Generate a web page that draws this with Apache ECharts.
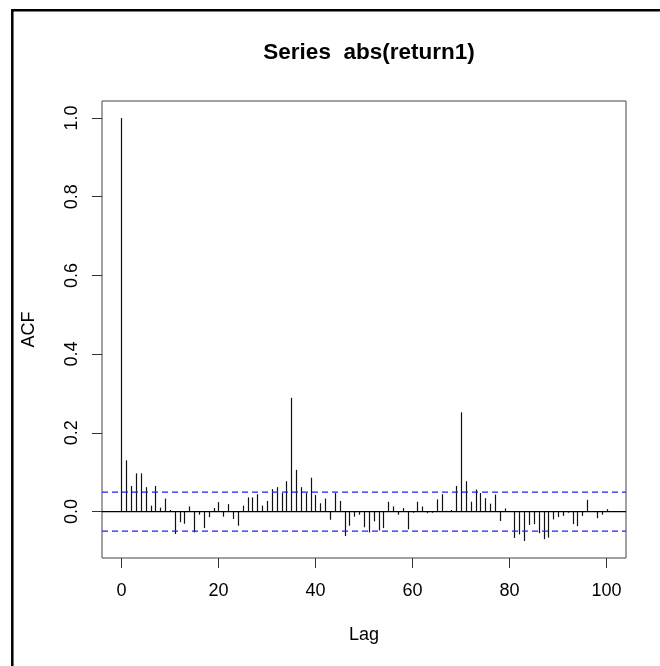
<!DOCTYPE html>
<html>
<head>
<meta charset="utf-8">
<title>Series abs(return1)</title>
<script src="https://cdn.jsdelivr.net/npm/echarts@6/dist/echarts.min.js"></script>
<style>
  html, body { margin: 0; padding: 0; background: #fff; }
  #chart { width: 660px; height: 666px; }
</style>
</head>
<body>
<div id="chart"></div>
<script>
// Autocorrelation of abs(return1), lags 0..100
const acfValues = [
  1.000, 0.130, 0.065, 0.097, 0.097, 0.062, 0.015, 0.065, 0.010, 0.033,
  0.004, -0.057, -0.027, -0.031, 0.013, -0.053, -0.008, -0.042, -0.014, 0.009,
  0.024, -0.013, 0.019, -0.019, -0.036, 0.015, 0.036, 0.036, 0.044, 0.015,
  0.027, 0.057, 0.062, 0.047, 0.077, 0.289, 0.106, 0.062, 0.047, 0.086,
  0.042, 0.021, 0.033, -0.021, 0.047, 0.027, -0.062, -0.036, -0.013, -0.008,
  -0.040, -0.053, -0.025, -0.048, -0.042, 0.025, 0.013, -0.008, 0.009, -0.045,
  -0.003, 0.025, 0.013, -0.004, -0.003, 0.031, 0.044, 0.002, 0.004, 0.065,
  0.252, 0.077, 0.025, 0.056, 0.047, 0.034, 0.020, 0.043, -0.024, 0.008,
  0.001, -0.067, -0.058, -0.075, -0.034, -0.032, -0.055, -0.070, -0.066, -0.020,
  -0.014, -0.011, -0.003, -0.032, -0.037, -0.011, 0.030, 0.001, -0.017, -0.008,
  0.006
];
const lags = acfValues.map((_, i) => i);

// 95% confidence bound (±1.96/sqrt(n)), drawn at +bound and -bound
const confBound = 0.0495;
const refLevels = [0, confBound, -confBound];

const xTicks = [0, 20, 40, 60, 80, 100];
const yTicks = [0, 0.2, 0.4, 0.6, 0.8, 1.0];

const FONT = "'Liberation Sans', Arial, sans-serif";

const chart = echarts.init(document.getElementById('chart'), null, { renderer: 'canvas' });

chart.setOption({
  backgroundColor: '#ffffff',
  animation: false,
  title: {
    text: 'Series  abs(return1)',
    left: 364,
    top: 36,
    textAlign: 'center',
    textStyle: { fontFamily: FONT, fontSize: 22.5, fontWeight: 'bold', color: '#000' }
  },
  graphic: [{
    type: 'rect',
    shape: { x: 12.3, y: 10.2, width: 800, height: 800 },
    style: { fill: 'none', stroke: '#000', lineWidth: 2.5 },
    silent: true
  }],
  grid: {
    left: 102, top: 101, width: 524, height: 457,
    show: true, borderColor: '#444', borderWidth: 1, backgroundColor: 'transparent'
  },
  xAxis: {
    type: 'value',
    min: -4, max: 104,
    name: 'Lag',
    nameLocation: 'middle',
    nameGap: 68,
    nameTextStyle: { fontFamily: FONT, fontSize: 18, color: '#000' },
    axisLine: { show: false, onZero: false },
    splitLine: { show: false },
    axisTick: { show: true, length: 10, lineStyle: { color: '#333' }, customValues: xTicks },
    axisLabel: {
      fontFamily: FONT, fontSize: 18, color: '#000', margin: 24,
      customValues: xTicks
    }
  },
  yAxis: {
    type: 'value',
    min: -0.118, max: 1.043,
    name: 'ACF',
    nameLocation: 'middle',
    nameGap: 64,
    nameTextStyle: { fontFamily: FONT, fontSize: 18, color: '#000' },
    axisLine: { show: false, onZero: false },
    splitLine: { show: false },
    axisTick: { show: true, length: 10, lineStyle: { color: '#333' }, customValues: yTicks },
    axisLabel: {
      fontFamily: FONT, fontSize: 18, color: '#000', margin: 21, rotate: 90,
      customValues: yTicks,
      formatter: v => v.toFixed(1)
    }
  },
  series: [
    {
      // one vertical spike per lag
      type: 'custom',
      data: lags.map((lag, i) => [lag, acfValues[i]]),
      z: 2,
      renderItem: function (params, api) {
        const lag = api.value(0);
        const v = api.value(1);
        const p0 = api.coord([lag, 0]);
        const p1 = api.coord([lag, v]);
        const x = Math.round(p0[0]) + 0.5;
        return {
          type: 'line',
          shape: { x1: x, y1: p0[1], x2: x, y2: p1[1] },
          style: { stroke: '#111', lineWidth: 1.2 }
        };
      }
    },
    {
      // zero line and confidence bounds across the full plot width
      type: 'custom',
      data: refLevels.map(v => [0, v]),
      z: 3,
      renderItem: function (params, api) {
        const cs = params.coordSys;
        const level = api.value(1);
        const y = api.coord([0, level])[1];
        const isZero = params.dataIndex === 0;
        return {
          type: 'line',
          shape: { x1: cs.x, y1: y, x2: cs.x + cs.width, y2: y },
          style: isZero
            ? { stroke: '#000000', lineWidth: 1.2 }
            : { stroke: '#1f1fff', lineWidth: 1.2, lineDash: [6, 4] }
        };
      }
    }
  ]
});
</script>
</body>
</html>
